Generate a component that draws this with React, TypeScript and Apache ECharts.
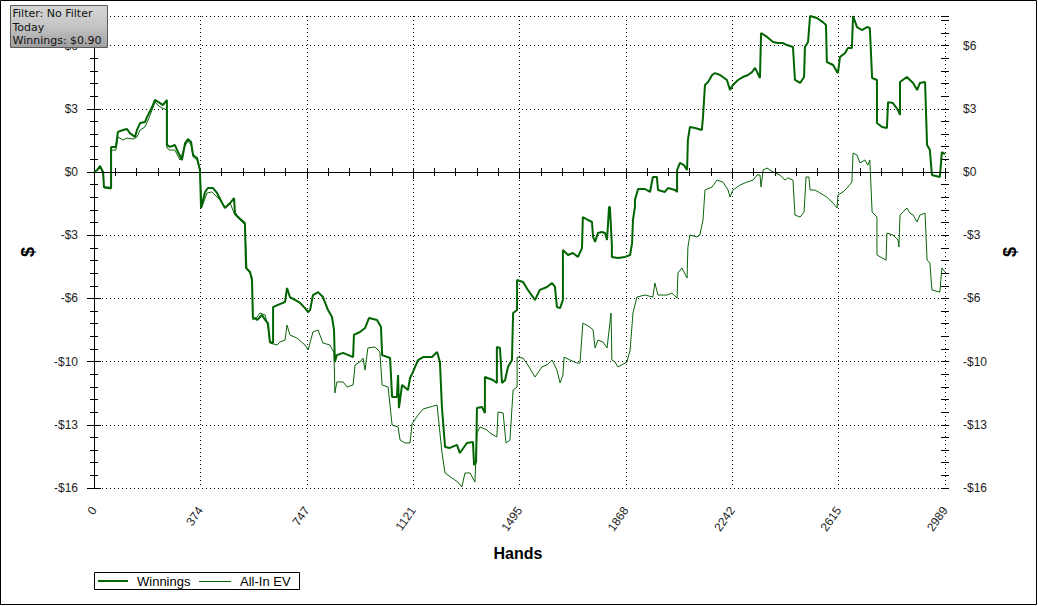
import React, { useEffect, useRef } from 'react';
import * as echarts from 'echarts';

// ---- data ----
const winHands = [0, 11, 21, 32, 35, 60, 60, 77, 84, 102, 116, 126, 144, 151, 162, 179, 186, 204, 214, 232, 242, 256, 256, 267, 284, 295, 309, 320, 330, 341, 348, 362, 372, 376, 390, 400, 418, 432, 450, 460, 478, 492, 495, 506, 530, 534, 548, 555, 558, 573, 590, 601, 611, 618, 629, 629, 646, 671, 678, 688, 706, 724, 741, 752, 759, 769, 787, 804, 822, 836, 843, 846, 853, 875, 910, 913, 934, 952, 966, 994, 1008, 1012, 1040, 1047, 1064, 1068, 1071, 1082, 1103, 1110, 1120, 1138, 1156, 1187, 1205, 1215, 1222, 1233, 1250, 1275, 1285, 1310, 1331, 1335, 1342, 1345, 1363, 1373, 1373, 1401, 1415, 1415, 1426, 1433, 1444, 1454, 1468, 1472, 1486, 1486, 1507, 1524, 1549, 1566, 1591, 1609, 1619, 1626, 1637, 1647, 1647, 1665, 1682, 1700, 1714, 1717, 1735, 1749, 1753, 1760, 1770, 1784, 1795, 1802, 1809, 1812, 1819, 1819, 1840, 1865, 1883, 1890, 1893, 1900, 1900, 1911, 1935, 1953, 1963, 1977, 1981, 2005, 2016, 2041, 2048, 2048, 2058, 2072, 2083, 2086, 2093, 2111, 2135, 2139, 2146, 2157, 2171, 2181, 2199, 2223, 2234, 2244, 2262, 2279, 2297, 2311, 2322, 2339, 2343, 2364, 2385, 2402, 2420, 2434, 2455, 2462, 2480, 2494, 2497, 2508, 2515, 2539, 2560, 2571, 2574, 2596, 2610, 2613, 2620, 2638, 2648, 2662, 2666, 2680, 2697, 2715, 2725, 2733, 2750, 2750, 2768, 2785, 2789, 2806, 2824, 2831, 2831, 2855, 2877, 2891, 2901, 2919, 2926, 2936, 2943, 2971, 2978, 2989];
const winValues = [0, 0.1, 0.3, 0, -0.76, -0.81, 1.27, 1.27, 2.03, 2.13, 2.18, 1.97, 1.77, 2.13, 2.48, 2.53, 2.78, 3.29, 3.65, 3.49, 3.39, 3.65, 1.37, 1.27, 1.37, 1.01, 0.61, 1.47, 1.67, 1.52, 0.86, 0.71, 0.1, -1.82, -1.01, -0.81, -0.81, -1.06, -1.57, -1.82, -1.57, -1.32, -2.08, -2.28, -2.58, -4.86, -5.06, -5.47, -7.34, -7.49, -7.24, -7.49, -7.65, -8.61, -8.66, -6.84, -6.73, -6.58, -5.87, -6.33, -6.48, -6.63, -6.89, -7.09, -6.99, -6.23, -6.08, -6.33, -6.99, -7.34, -8.0, -9.62, -9.27, -9.16, -9.37, -8.25, -8.1, -7.9, -7.39, -7.49, -7.85, -9.27, -9.42, -11.39, -11.39, -10.28, -11.95, -10.78, -11.04, -10.43, -10.13, -9.52, -9.37, -9.37, -9.11, -9.62, -11.9, -13.92, -13.97, -13.82, -14.23, -13.72, -13.67, -14.84, -14.68, -11.95, -11.9, -12.2, -10.38, -10.53, -10.68, -8.86, -8.91, -10.68, -10.53, -9.87, -9.52, -7.14, -6.99, -5.47, -5.57, -5.97, -6.48, -5.97, -5.82, -5.62, -5.82, -6.84, -6.89, -6.48, -3.95, -4.2, -4.1, -4.3, -3.85, -2.28, -2.43, -2.53, -3.29, -3.54, -3.09, -3.04, -3.09, -3.44, -1.77, -1.77, -3.7, -4.3, -4.35, -4.3, -4.2, -3.59, -2.43, -1.77, -1.42, -0.86, -0.86, -1.01, -0.25, -0.25, -0.91, -1.01, -0.81, -0.91, -1.01, 0.1, 0.46, 0.35, 0.1, 1.62, 2.28, 2.23, 2.13, 2.78, 4.41, 4.56, 4.91, 5.01, 4.91, 4.66, 4.15, 4.41, 4.66, 4.81, 4.91, 5.06, 5.27, 4.76, 7.04, 6.84, 6.58, 6.53, 6.53, 6.43, 6.33, 4.66, 4.51, 4.81, 6.33, 6.58, 7.9, 7.8, 7.59, 7.44, 5.57, 5.42, 5.06, 5.01, 5.82, 6.03, 6.28, 6.28, 7.9, 7.34, 7.19, 7.34, 7.29, 4.76, 4.66, 2.48, 2.28, 2.23, 3.54, 3.49, 3.14, 2.89, 4.56, 4.81, 4.51, 4.15, 4.51, 4.56, 1.37, 1.11, -0.15, -0.25, 1.01, 0.9];

const evHands = [0, 11, 21, 32, 35, 60, 60, 77, 84, 102, 116, 137, 151, 162, 179, 190, 204, 214, 228, 239, 256, 256, 267, 284, 302, 320, 330, 341, 348, 362, 372, 379, 397, 414, 443, 460, 478, 495, 520, 530, 537, 555, 558, 573, 583, 601, 611, 618, 643, 653, 671, 678, 688, 713, 741, 752, 769, 787, 804, 829, 843, 846, 853, 875, 889, 910, 917, 934, 945, 952, 962, 987, 1004, 1012, 1033, 1047, 1068, 1075, 1092, 1110, 1117, 1138, 1156, 1180, 1205, 1222, 1233, 1257, 1278, 1292, 1303, 1321, 1338, 1345, 1356, 1380, 1391, 1415, 1419, 1437, 1447, 1461, 1472, 1486, 1486, 1507, 1524, 1549, 1573, 1591, 1609, 1626, 1637, 1647, 1651, 1672, 1696, 1707, 1717, 1742, 1753, 1760, 1770, 1788, 1802, 1816, 1819, 1830, 1840, 1872, 1883, 1893, 1907, 1935, 1963, 1970, 1981, 2013, 2030, 2048, 2051, 2065, 2083, 2086, 2093, 2118, 2128, 2139, 2146, 2171, 2188, 2209, 2227, 2234, 2244, 2269, 2293, 2315, 2329, 2339, 2343, 2350, 2364, 2385, 2409, 2427, 2437, 2455, 2462, 2480, 2494, 2501, 2511, 2515, 2532, 2550, 2574, 2596, 2610, 2613, 2631, 2648, 2662, 2666, 2680, 2690, 2708, 2718, 2725, 2733, 2750, 2750, 2768, 2782, 2785, 2806, 2824, 2827, 2831, 2855, 2866, 2877, 2891, 2901, 2919, 2926, 2936, 2943, 2971, 2978, 2989];
const evValues = [0, 0.1, 0.25, -0.1, -0.81, -0.86, 1.11, 1.11, 1.77, 1.62, 1.72, 1.67, 1.77, 2.13, 2.28, 2.63, 3.14, 3.54, 3.34, 3.24, 3.14, 1.22, 1.11, 1.11, 0.61, 1.32, 1.57, 1.37, 0.76, 0.61, 0.1, -1.77, -1.06, -1.01, -1.42, -1.77, -1.57, -2.18, -2.53, -2.68, -4.86, -5.32, -7.49, -7.34, -7.14, -7.24, -7.85, -8.66, -8.76, -8.61, -8.51, -7.75, -8.25, -8.41, -8.76, -9.01, -8.1, -8.0, -8.66, -8.76, -9.16, -11.19, -10.63, -10.63, -10.89, -10.78, -9.77, -9.62, -9.42, -10.03, -8.91, -8.86, -9.11, -10.78, -10.89, -12.81, -12.91, -13.57, -13.72, -13.72, -12.76, -12.3, -12.0, -11.9, -11.8, -14.18, -15.24, -15.49, -15.7, -15.95, -15.24, -15.24, -15.7, -13.22, -12.91, -13.06, -13.22, -13.42, -12.15, -12.2, -13.72, -13.57, -11.04, -10.89, -9.37, -9.42, -9.77, -10.38, -9.87, -9.77, -9.52, -10.03, -10.68, -10.28, -9.37, -9.52, -9.67, -9.67, -7.65, -7.85, -8.0, -8.91, -8.51, -8.61, -8.91, -7.14, -9.52, -9.62, -9.87, -9.62, -9.01, -7.14, -6.33, -6.23, -6.33, -5.62, -6.23, -6.23, -6.13, -6.38, -5.11, -4.86, -5.37, -3.8, -3.19, -3.29, -3.19, -2.43, -0.91, -0.76, -0.41, -0.51, -0.91, -1.27, -0.91, -0.66, -0.51, -0.41, -0.15, -0.15, -0.76, 0.1, 0.2, 0.0, -0.15, -0.41, -0.3, -0.41, -2.18, -2.28, -2.03, -0.25, -0.25, -0.91, -0.91, -1.06, -1.27, -1.57, -1.82, -1.16, -1.01, -0.76, -0.51, 0.96, 0.86, 0.46, 0.61, 0.35, 0.61, -2.03, -2.28, -4.2, -4.35, -4.46, -3.09, -3.19, -3.44, -3.8, -2.18, -1.82, -2.08, -2.18, -2.53, -2.18, -2.08, -4.46, -4.61, -5.97, -6.08, -4.86, -5.06];

const xTickLabels = ['0', '374', '747', '1121', '1495', '1868', '2242', '2615', '2989'];
const yTickLabels = ['-$16', '-$13', '-$10', '-$6', '-$3', '$0', '$3', '$6'];
const seriesNames = ['Winnings', 'All-In EV'];
const infoLines = ['Filter: No Filter', 'Today', 'Winnings: $0.90'];

const X_MAX = 2989;
const Y_MIN = -16;
const Y_MAX = 7.9;
const Y_STEP = 3.2;
const GREEN = '#006400';

export default function App() {
  const ref = useRef<HTMLDivElement>(null);

  useEffect(() => {
    if (!ref.current) return;
    const chart = echarts.init(ref.current, undefined, { renderer: 'svg' });
    const black = '#000';
    const labelFont = { fontFamily: 'Liberation Sans', fontSize: 12, color: '#222' };
    const dotted = { show: true, lineStyle: { color: black, width: 1, type: [1, 3] as any } };

    const minorX = (position: string, inside: boolean, showLine: boolean) => ({
      type: 'value', position, min: 0, max: X_MAX, interval: X_MAX / 40,
      axisLine: { show: showLine, lineStyle: { color: black, width: 1 } },
      axisTick: { show: true, inside, length: 4, lineStyle: { color: black } },
      axisLabel: { show: false }, splitLine: { show: false },
    });
    const minorY = (position: string, inside: boolean) => ({
      type: 'value', position, min: Y_MIN, max: Y_MAX, interval: Y_STEP / 5,
      axisLine: { show: false },
      axisTick: { show: true, inside, length: 4, lineStyle: { color: black } },
      axisLabel: { show: false }, splitLine: { show: false },
    });
    const majorY = (position: string, margin: number, split: boolean) => ({
      type: 'value', position, min: Y_MIN, max: Y_MAX, interval: Y_STEP,
      axisLine: { show: true, lineStyle: { color: black, width: 1 } },
      axisTick: { show: true, inside: false, length: 7, lineStyle: { color: black } },
      axisLabel: { ...labelFont, margin, formatter: (_v: number, i: number) => yTickLabels[i] ?? '' },
      splitLine: split ? dotted : { show: false },
    });

    const Z = 1000;
    const legendY = 581;
    chart.setOption({
      animation: false,
      backgroundColor: '#fff',
      grid: { left: 94, right: 93, top: 16, bottom: 118 },
      xAxis: [
        {
          type: 'value', position: 'bottom', min: 0, max: X_MAX, interval: X_MAX / 8,
          axisLine: { show: true, lineStyle: { color: black, width: 1 } },
          axisTick: { show: true, inside: false, length: 7, lineStyle: { color: black } },
          axisLabel: { ...labelFont, rotate: 55, margin: 20, formatter: (_v: number, i: number) => xTickLabels[i] ?? '' },
          splitLine: dotted,
        },
        minorX('bottom', true, false),
        minorX('bottom', false, false),
        minorX('top', true, true),
      ],
      yAxis: [
        majorY('left', 16, true),
        minorY('left', true),
        minorY('left', false),
        majorY('right', 18, false),
        minorY('right', true),
        minorY('right', false),
      ],
      series: [
        {
          name: seriesNames[0], type: 'line', xAxisIndex: 0, yAxisIndex: 0,
          data: winHands.map((h, i) => [h, winValues[i]]),
          symbol: 'none', z: 4,
          lineStyle: { color: GREEN, width: 2 }, itemStyle: { color: GREEN },
          markLine: {
            silent: true, symbol: ['none', 'none'], label: { show: false },
            lineStyle: { color: black, type: 'solid', width: 1 },
            data: [{ yAxis: 0 }],
          },
        },
        {
          name: seriesNames[1], type: 'line', xAxisIndex: 0, yAxisIndex: 0,
          data: evHands.map((h, i) => [h, evValues[i]]),
          symbol: 'none', z: 3,
          lineStyle: { color: '#0a640a', width: 1 }, itemStyle: { color: '#0a640a' },
        },
      ],
      graphic: [
        {
          type: 'rect', silent: true, z: Z,
          shape: { x: 0.5, y: 0.5, width: 1036, height: 604 },
          style: { fill: 'none', stroke: black, lineWidth: 1 },
        },
        // info box
        {
          type: 'rect', z: Z, shape: { x: 10.5, y: 5.5, width: 97, height: 42 },
          style: {
            fill: new echarts.graphic.LinearGradient(0, 0, 0, 1, [
              { offset: 0, color: '#d6d6d6' },
              { offset: 0.5, color: '#c4c4c4' },
              { offset: 1, color: '#9e9e9e' },
            ]),
            stroke: '#5a5a5a', lineWidth: 1,
          },
        },
        ...infoLines.map((t, i) => ({
          type: 'text', z: Z + 1, x: 12.5, y: 8 + i * 13.5,
          style: { text: t, fontFamily: 'DejaVu Sans', fontSize: 11, fill: '#111', align: 'left', verticalAlign: 'top' },
        })),
        // axis names
        {
          type: 'text', x: 28, y: 252, rotation: Math.PI / 2, z: Z,
          style: { text: '$', fontFamily: 'Liberation Sans', fontWeight: 'bold', fontSize: 18, fill: black, align: 'center', verticalAlign: 'middle' },
        },
        {
          type: 'text', x: 1010, y: 252, rotation: Math.PI / 2, z: Z,
          style: { text: '$', fontFamily: 'Liberation Sans', fontWeight: 'bold', fontSize: 18, fill: black, align: 'center', verticalAlign: 'middle' },
        },
        {
          type: 'text', x: 518, y: 553, z: Z,
          style: { text: 'Hands', fontFamily: 'Liberation Sans', fontWeight: 'bold', fontSize: 16, fill: black, align: 'center', verticalAlign: 'middle' },
        },
        // legend
        {
          type: 'rect', z: Z, shape: { x: 94.5, y: 572.5, width: 205, height: 17 },
          style: { fill: '#fff', stroke: black, lineWidth: 1 },
        },
        {
          type: 'line', z: Z, shape: { x1: 98, y1: legendY, x2: 128, y2: legendY },
          style: { stroke: GREEN, lineWidth: 2 },
        },
        {
          type: 'text', z: Z, x: 137, y: legendY,
          style: { text: seriesNames[0], fontFamily: 'Liberation Sans', fontSize: 13, fill: black, align: 'left', verticalAlign: 'middle' },
        },
        {
          type: 'line', z: Z, shape: { x1: 199, y1: legendY + 0.5, x2: 231, y2: legendY + 0.5 },
          style: { stroke: GREEN, lineWidth: 1 },
        },
        {
          type: 'text', z: Z, x: 240, y: legendY,
          style: { text: seriesNames[1], fontFamily: 'Liberation Sans', fontSize: 13, fill: black, align: 'left', verticalAlign: 'middle' },
        },
      ],
    });
    return () => chart.dispose();
  }, []);

  return <div ref={ref} style={{ position: 'absolute', left: 0, top: 0, width: 1038, height: 606 }} />;
}
